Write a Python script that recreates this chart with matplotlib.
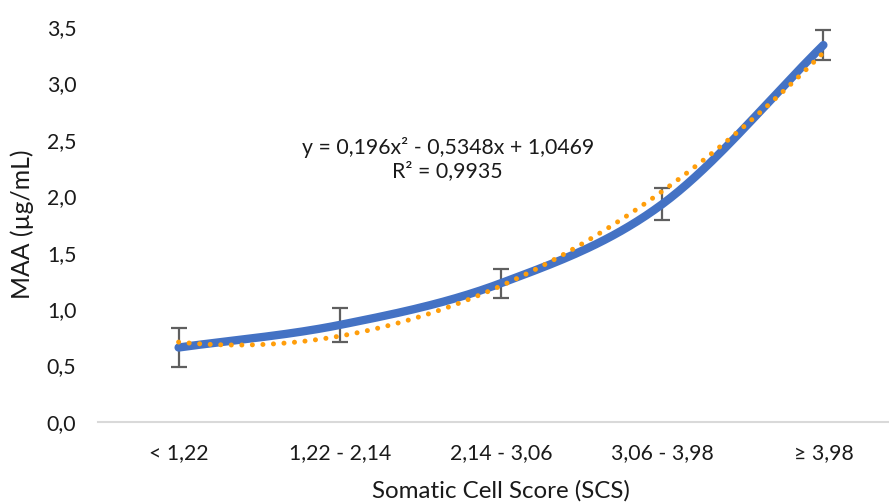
import numpy as np
import matplotlib
matplotlib.use("Agg")
import matplotlib.pyplot as plt

plt.rcParams['font.family'] = ['Lato', 'DejaVu Sans']

categories = ["< 1,22", "1,22 - 2,14", "2,14 - 3,06", "3,06 - 3,98", "≥ 3,98"]
maa_mean = [0.66, 0.86, 1.23, 1.93, 3.34]
maa_err = [0.17, 0.15, 0.13, 0.14, 0.135]
trend_coef = [0.196, -0.5348, 1.0469]  # y = a x^2 + b x + c, x = 1..5
yticks = [0.0, 0.5, 1.0, 1.5, 2.0, 2.5, 3.0, 3.5]
ytick_labels = ["0,0", "0,5", "1,0", "1,5", "2,0", "2,5", "3,0", "3,5"]
equation_text = "y = 0,196x² - 0,5348x + 1,0469\nR² = 0,9935"


def catmull_rom(xs, ys, n=40):
    xs = np.asarray(xs, float); ys = np.asarray(ys, float)
    P = np.column_stack([xs, ys])
    P = np.vstack([P[0] - (P[1] - P[0]), P, P[-1] + (P[-1] - P[-2])])
    out = []
    for i in range(1, len(P) - 2):
        p0, p1, p2, p3 = P[i - 1], P[i], P[i + 1], P[i + 2]
        t = np.linspace(0, 1, n)[:, None]
        seg = 0.5 * ((2 * p1) + (-p0 + p2) * t + (2 * p0 - 5 * p1 + 4 * p2 - p3) * t ** 2
                     + (-p0 + 3 * p1 - 3 * p2 + p3) * t ** 3)
        out.append(seg)
    S = np.vstack(out)
    return S[:, 0], S[:, 1]


fig = plt.figure(figsize=(8.89, 5.04), dpi=100)
ax = fig.add_axes([98 / 889, (504 - 422) / 504, 806 / 889, (422 - 27) / 504])

x = np.arange(len(categories))
sx, sy = catmull_rom(x, maa_mean)

# trendline (polynomial, x = 1..5 in Excel convention)
tx = np.linspace(0, len(categories) - 1, 300)
ty = np.polyval(trend_coef, tx + 1)

ax.errorbar(x, maa_mean, yerr=maa_err, fmt='none', ecolor='#5f5f5f',
            elinewidth=1.6, capsize=6, capthick=1.6, zorder=2)
ax.plot(sx, sy, color='#4472C4', linewidth=6, solid_capstyle='round', zorder=3)
ax.plot(tx, ty, color='#FF9E0B', linewidth=3.6, linestyle=(0, (0.01, 2.1)),
        dash_capstyle='round', zorder=4)

ax.text(1.67, 2.33, equation_text, ha='center', va='center', fontsize=15.3,
        color='#1a1a1a', linespacing=1.15)

ax.set_xlim(-0.5, len(categories) - 0.5)
ax.set_ylim(0, 3.5)
ax.set_xticks(x)
ax.set_xticklabels(categories, fontsize=15.3, color='#1a1a1a')
ax.set_yticks(yticks)
ax.set_yticklabels(ytick_labels, fontsize=15.3, color='#1a1a1a')
ax.tick_params(axis='both', length=0)
ax.tick_params(axis='x', pad=15)
ax.tick_params(axis='y', pad=15.5)

for s in ['top', 'right', 'left']:
    ax.spines[s].set_visible(False)
ax.spines['bottom'].set_color('#D9D9D9')
ax.spines['bottom'].set_linewidth(1.5)

ax.set_xlabel("Somatic Cell Score (SCS)", fontsize=17.4, color='#1a1a1a')
ax.set_ylabel("MAA (µg/mL)", fontsize=17.8, color='#1a1a1a')
ax.xaxis.set_label_coords((501 - 98) / 806, -(480 - 422) / 395)
ax.yaxis.set_label_coords(-(98 - 34) / 806, 0.5)

fig.savefig("out.png", dpi=100)
